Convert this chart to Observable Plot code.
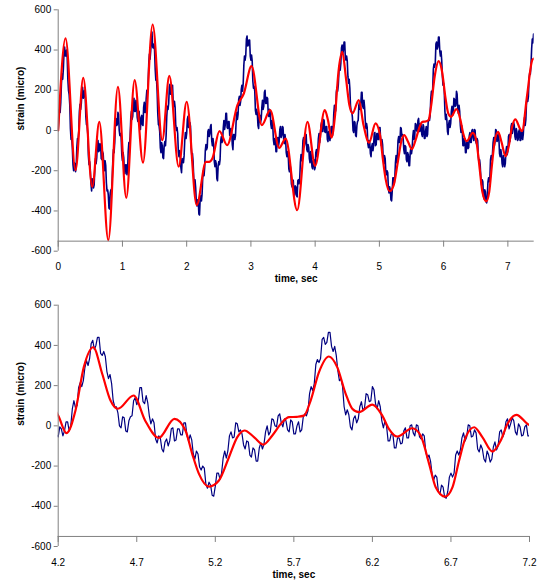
<!DOCTYPE html>
<html><head><meta charset="utf-8">
<script src="https://cdn.jsdelivr.net/npm/d3@7"></script>
<script src="https://cdn.jsdelivr.net/npm/@observablehq/plot@0.6"></script>
<style>body{margin:0;background:#fff;} #chart svg{display:block;}</style>
</head><body><div id="chart"></div>
<script>
// measured strain (blue), sampled every 0.01 s from t = 0
const blueStart = 0, blueStep = 0.01;
const blueStrain = [
0,80,105,90,140,230,280,255,305,385,415,370,370,400,365,255,200,180,130,10,
-45,-35,-85,-170,-200,-160,-165,-205,-180,-85,-40,-40,-5,95,130,105,135,190,215,160,
170,200,175,70,30,25,-15,-125,-170,-155,-195,-265,-300,-240,-250,-285,-270,-190,-140,-165,
-135,-60,-50,-105,-100,-65,-70,-140,-145,-105,-115,-175,-200,-150,-175,-260,-300,-295,-320,-385,
-390,-310,-295,-300,-250,-150,-95,-110,-60,25,60,25,30,90,80,0,-25,-15,-35,-120,
-150,-110,-135,-205,-215,-170,-170,-220,-200,-105,-60,-65,-30,65,95,55,70,130,160,95,
95,150,145,65,45,90,95,15,5,65,75,30,25,115,140,90,90,160,200,185,
235,335,380,355,395,460,490,415,410,430,400,305,250,255,195,85,30,25,-5,-85,
-110,-60,-75,-135,-140,-75,-55,-75,-25,70,120,105,135,215,230,180,180,215,225,140,
120,145,115,25,0,15,-15,-105,-130,-100,-125,-185,-210,-140,-145,-160,-125,-50,-10,-40,
-15,55,70,15,25,40,20,-85,-125,-115,-155,-235,-275,-245,-285,-355,-375,-345,-350,-415,
-420,-340,-325,-350,-315,-235,-200,-225,-185,-100,-70,-95,-85,-5,5,-30,-15,20,30,-50,
-75,-40,-70,-155,-180,-150,-165,-240,-250,-175,-155,-170,-145,-50,-30,-60,-45,15,50,5,
25,85,85,15,10,45,45,-25,-25,10,-5,-70,-95,-20,-20,-45,-25,45,90,55,
80,155,170,125,145,205,225,195,235,325,370,350,375,455,470,420,425,450,450,370,
350,375,345,245,210,220,195,100,80,105,85,25,10,75,75,40,55,115,150,105,
120,190,200,135,135,165,160,80,70,105,95,30,10,50,25,-45,-70,-40,-45,-105,
-105,-40,-35,-75,-55,5,20,-35,-25,20,15,-45,-65,-20,-45,-110,-130,-105,-115,-190,
-205,-170,-195,-265,-280,-245,-250,-320,-320,-275,-280,-325,-330,-250,-245,-265,-235,-160,-120,-150,
-125,-50,-35,-80,-65,-20,-20,-95,-105,-70,-85,-140,-160,-105,-125,-180,-190,-150,-145,-195,
-185,-110,-95,-130,-105,-40,-15,-60,-35,25,40,-5,-5,55,50,-5,-10,20,20,-45,
-55,-5,-15,-50,-25,20,20,-25,0,85,125,90,100,190,215,195,225,290,325,300,
335,410,425,380,400,440,440,360,350,370,345,270,235,255,210,125,95,95,65,0,
-10,45,40,-25,-30,25,45,50,125,140,105,125,190,190,120,110,150,115,50,10,
35,15,-65,-85,-50,-60,-115,-130,-80,-65,-100,-75,-15,-10,-75,-70,-15,-15,-45,-45,
15,15,-50,-75,-45,-70,-140,-165,-125,-140,-205,-220,-200,-210,-290,-310,-280,-295,-345,-350,
-300,-235,-235,-265,-235,-160,-125,-160,-125,-50,-30,-60,-55,15,10,-30,-20,-40,-95,-115,
-75,-80,-145,-155,-110,-120,-175,-175,-110,-85,-115,-90,-30,0,-45,-30,35,30,0,-5,
50,60,15,-5,35,25,-20,-30,30,20,-40,-40,0,20,-30,-20,45,60,50,75,
160,195,175,210,305,330,315,335,430,440,405,415,465,465,395,370,395,350,275,225,
235,195,95,55,80,55,-5,-20,35,50,15,35,95,120,75,90,160,155,120,125,
195,180,110,85,125,95,25,-10,25,0,-75,-75,-40,-40,-110,-110,-60,-60,-90,-85,
-25,-10,-60,-60,0,5,-35,-50,5,0,-55,-65,-40,-50,-130,-160,-145,-175,-240,-270,
-245,-255,-325,-340,-295,-305,-355,-360,-325,-255,-235,-255,-235,-145,-125,-145,-120,-60,-35,-75,
-55,5,0,-55,-50,-20,-35,-115,-130,-95,-115,-165,-180,-125,-145,-180,-165,-105,-80,-120,
-100,-30,-20,-55,-35,20,35,-15,10,40,25,-30,-45,10,-5,-50,-45,-5,5,-50,
-50,0,-15,-45,-20,40,65,25,55,135,165,145,170,260,285,280,325,405,455,435,
480];

// model strain (red)
const redTime = [0,0.114,0.27,0.39,0.53,0.64,0.78,0.93,1.06,1.19,1.32,1.47,1.62,1.73,1.875,2.0,2.156,2.30,2.35,2.40,2.51,2.63,2.79,2.89,3.01,3.17,3.30,3.44,3.54,3.72,3.88,4.0,4.15,4.2,4.253,4.31,4.363,4.423,4.48,4.533,4.58,4.68,4.753,4.84,4.94,5.01,5.053,5.096,5.16,5.223,5.287,5.34,5.386,5.446,5.505,5.563,5.626,5.669,5.72,5.764,5.807,5.86,5.923,5.976,6.03,6.072,6.114,6.2,6.263,6.305,6.358,6.454,6.507,6.561,6.603,6.663,6.71,6.752,6.794,6.848,6.9,6.964,7.017,7.06,7.117,7.19,7.22,7.30,7.38,7.41];
const redStrain = [0,458,-197,262,-280,43,-545,217,-335,250,-160,527,-48,272,-180,143,-371,-156,-156,-139,-3,-73,126,184,320,27,101,-86,-40,-396,43,-176,101,51,-36,76,292,391,259,126,85,151,27,-60,35,-23,-139,-239,-302,-272,-156,-56,-23,-56,-93,-48,18,43,45,51,126,267,345,292,159,85,68,106,51,-15,-53,-12,-48,-189,-305,-352,-305,-172,-56,-7,-56,-128,-73,10,55,8,-3,176,350,358];

const yTicks = [-600,-400,-200,0,200,400,600];
const topXTicks = [0,1,2,3,4,5,6,7];
const bottomXTicks = [4.2,4.7,5.2,5.7,6.2,6.7,7.2];
const xAxisLevel = -550;

const blue = blueStrain.map((v,i)=>({t: +(blueStart + i*blueStep).toFixed(3), v}));
const red = redTime.map((t,i)=>({t, v: redStrain[i]}));

function panel({domain, ticks, height, mt, mb, mr, blueWidth}) {
  return Plot.plot({
    width: 538, height, marginLeft: 57.7, marginRight: mr, marginTop: mt, marginBottom: mb,
    style: {fontFamily: "'Liberation Sans', Arial, sans-serif", fontSize: "10px", color: "#000", background: "#fff", overflow: "visible"},
    x: {domain, axis: null},
    y: {domain: [-600, 600]},
    marks: [
      Plot.line(blue, {x:"t", y:"v", stroke:"#000080", strokeWidth:blueWidth, clip:true}),
      Plot.line(red, {x:"t", y:"v", stroke:"#ff0000", strokeWidth:2.2, curve:"monotone-x", clip:true}),
      Plot.ruleX([domain[0]], {stroke:"#808080"}),
      Plot.ruleY([xAxisLevel], {stroke:"#808080"}),
      Plot.ruleX(ticks, {x: d=>d, y1: xAxisLevel, y2: xAxisLevel-30, stroke:"#808080"}),
      Plot.axisY(yTicks, {tickSize: 4, tickPadding: 3, tickFormat: d=>String(d), stroke:"#808080", fill:"#000", label: null}),
      Plot.text(ticks, {x: d=>d, y: -600, dy: 16, text: d=>String(d), fill:"#000"}),
      Plot.text(["time, sec"], {frameAnchor:"bottom", dy: 31, fontWeight:"bold", fill:"#000"}),
      Plot.text(["strain (micro)"], {frameAnchor:"left", dx:-37, rotate:-90, fontWeight:"bold", fill:"#000"})
    ]
  });
}

const chart = document.getElementById("chart");
chart.appendChild(panel({domain:[0,7.41], ticks: topXTicks, height:290, mt:9.3, mb:39.3, mr:4.3, blueWidth:1.6}));
chart.appendChild(panel({domain:[4.2,7.2], ticks: bottomXTicks, height:291, mt:14.7, mb:35, mr:9, blueWidth:1.2}));
</script>
</body></html>
